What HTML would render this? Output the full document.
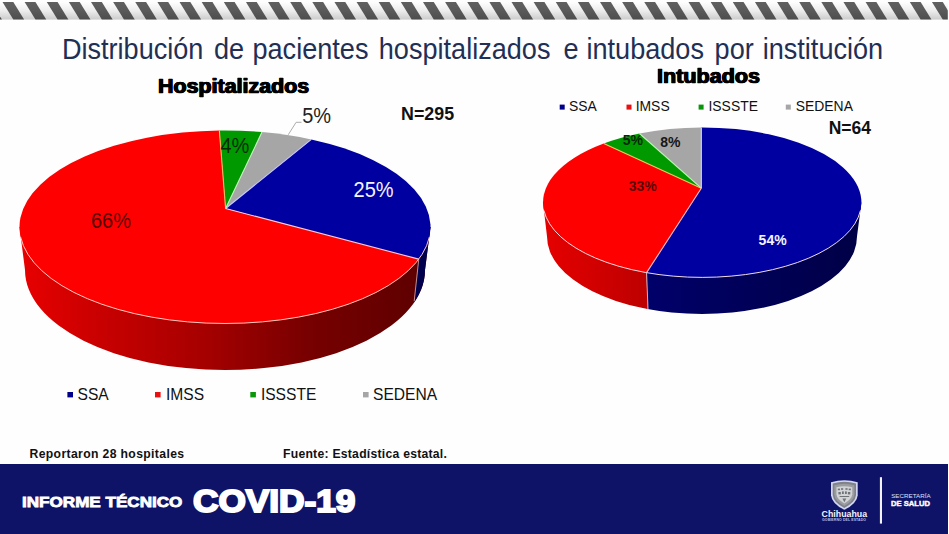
<!DOCTYPE html>
<html lang="es">
<head>
<meta charset="utf-8">
<title>Distribución de pacientes hospitalizados e intubados por institución</title>
<style>
html,body{margin:0;padding:0;}
body{width:949px;height:534px;overflow:hidden;background:#fff;font-family:"Liberation Sans",sans-serif;}
#slide{position:relative;width:949px;height:534px;overflow:hidden;background:#fefefe;}
#gfx{position:absolute;left:0;top:0;}
.t{position:absolute;white-space:nowrap;line-height:1;margin:0;transform-origin:0 0;}
#footer{position:absolute;left:0;top:464px;width:947.8px;height:70px;background:#0e1367;}
</style>
</head>
<body>
<div id="slide">
<svg id="gfx" width="949" height="534" viewBox="0 0 949 534">

<defs>
<linearGradient id="gL" gradientUnits="userSpaceOnUse" x1="20" y1="0" x2="430" y2="0">
 <stop offset="0" stop-color="#e80000"/>
 <stop offset="0.2" stop-color="#c80000"/>
 <stop offset="0.45" stop-color="#a60000"/>
 <stop offset="0.7" stop-color="#780000"/>
 <stop offset="1" stop-color="#5c0000"/>
</linearGradient>
<linearGradient id="gRr" gradientUnits="userSpaceOnUse" x1="543" y1="0" x2="650" y2="0">
 <stop offset="0" stop-color="#e60000"/>
 <stop offset="1" stop-color="#bc0000"/>
</linearGradient>
<linearGradient id="gRb" gradientUnits="userSpaceOnUse" x1="648" y1="0" x2="861" y2="0">
 <stop offset="0" stop-color="#00006a"/>
 <stop offset="0.5" stop-color="#000058"/>
 <stop offset="1" stop-color="#000046"/>
</linearGradient>
<linearGradient id="gStripe" x1="0" y1="0" x2="0" y2="1">
 <stop offset="0" stop-color="#000" stop-opacity="0"/>
 <stop offset="0.5" stop-color="#000" stop-opacity="0.07"/>
 <stop offset="1" stop-color="#000" stop-opacity="0.2"/>
</linearGradient>
</defs>
<polygon points="-19.63,2 -8.83,2 1.97,19.6 -8.83,19.6" fill="#606060"/><polygon points="2.50,2 13.30,2 24.10,19.6 13.30,19.6" fill="#606060"/><polygon points="24.63,2 35.43,2 46.23,19.6 35.43,19.6" fill="#606060"/><polygon points="46.76,2 57.56,2 68.36,19.6 57.56,19.6" fill="#606060"/><polygon points="68.89,2 79.69,2 90.49,19.6 79.69,19.6" fill="#606060"/><polygon points="91.02,2 101.82,2 112.62,19.6 101.82,19.6" fill="#606060"/><polygon points="113.15,2 123.95,2 134.75,19.6 123.95,19.6" fill="#606060"/><polygon points="135.28,2 146.08,2 156.88,19.6 146.08,19.6" fill="#606060"/><polygon points="157.41,2 168.21,2 179.01,19.6 168.21,19.6" fill="#606060"/><polygon points="179.54,2 190.34,2 201.14,19.6 190.34,19.6" fill="#606060"/><polygon points="201.67,2 212.47,2 223.27,19.6 212.47,19.6" fill="#606060"/><polygon points="223.80,2 234.60,2 245.40,19.6 234.60,19.6" fill="#606060"/><polygon points="245.93,2 256.73,2 267.53,19.6 256.73,19.6" fill="#606060"/><polygon points="268.06,2 278.86,2 289.66,19.6 278.86,19.6" fill="#606060"/><polygon points="290.19,2 300.99,2 311.79,19.6 300.99,19.6" fill="#606060"/><polygon points="312.32,2 323.12,2 333.92,19.6 323.12,19.6" fill="#606060"/><polygon points="334.45,2 345.25,2 356.05,19.6 345.25,19.6" fill="#606060"/><polygon points="356.58,2 367.38,2 378.18,19.6 367.38,19.6" fill="#606060"/><polygon points="378.71,2 389.51,2 400.31,19.6 389.51,19.6" fill="#606060"/><polygon points="400.84,2 411.64,2 422.44,19.6 411.64,19.6" fill="#606060"/><polygon points="422.97,2 433.77,2 444.57,19.6 433.77,19.6" fill="#606060"/><polygon points="445.10,2 455.90,2 466.70,19.6 455.90,19.6" fill="#606060"/><polygon points="467.23,2 478.03,2 488.83,19.6 478.03,19.6" fill="#606060"/><polygon points="489.36,2 500.16,2 510.96,19.6 500.16,19.6" fill="#606060"/><polygon points="511.49,2 522.29,2 533.09,19.6 522.29,19.6" fill="#606060"/><polygon points="533.62,2 544.42,2 555.22,19.6 544.42,19.6" fill="#606060"/><polygon points="555.75,2 566.55,2 577.35,19.6 566.55,19.6" fill="#606060"/><polygon points="577.88,2 588.68,2 599.48,19.6 588.68,19.6" fill="#606060"/><polygon points="600.01,2 610.81,2 621.61,19.6 610.81,19.6" fill="#606060"/><polygon points="622.14,2 632.94,2 643.74,19.6 632.94,19.6" fill="#606060"/><polygon points="644.27,2 655.07,2 665.87,19.6 655.07,19.6" fill="#606060"/><polygon points="666.40,2 677.20,2 688.00,19.6 677.20,19.6" fill="#606060"/><polygon points="688.53,2 699.33,2 710.13,19.6 699.33,19.6" fill="#606060"/><polygon points="710.66,2 721.46,2 732.26,19.6 721.46,19.6" fill="#606060"/><polygon points="732.79,2 743.59,2 754.39,19.6 743.59,19.6" fill="#606060"/><polygon points="754.92,2 765.72,2 776.52,19.6 765.72,19.6" fill="#606060"/><polygon points="777.05,2 787.85,2 798.65,19.6 787.85,19.6" fill="#606060"/><polygon points="799.18,2 809.98,2 820.78,19.6 809.98,19.6" fill="#606060"/><polygon points="821.31,2 832.11,2 842.91,19.6 832.11,19.6" fill="#606060"/><polygon points="843.44,2 854.24,2 865.04,19.6 854.24,19.6" fill="#606060"/><polygon points="865.57,2 876.37,2 887.17,19.6 876.37,19.6" fill="#606060"/><polygon points="887.70,2 898.50,2 909.30,19.6 898.50,19.6" fill="#606060"/><polygon points="909.83,2 920.63,2 931.43,19.6 920.63,19.6" fill="#606060"/><polygon points="931.96,2 942.76,2 953.56,19.6 942.76,19.6" fill="#606060"/><polygon points="954.09,2 964.89,2 975.69,19.6 964.89,19.6" fill="#606060"/><rect x="0" y="2" width="949" height="17.6" fill="url(#gStripe)"/><rect x="947.8" y="0" width="2" height="22" fill="#fefefe"/><path d="M19.5,227 L25,270 A200,100 0 0 0 425,270 L430.5,227 Z" fill="url(#gL)"/>
<clipPath id="cpLb"><polygon points="418.78,259.13 414.2,302.5 440,302.5 440,200 418.78,200"/></clipPath>
<path d="M19.5,227 L25,270 A200,100 0 0 0 425,270 L430.5,227 Z" fill="#00004c" clip-path="url(#cpLb)"/>
<line x1="418.78" y1="259.13" x2="414.2" y2="301.2" stroke="#e8b0b0" stroke-width="0.8"/>
<path d="M225.60,208.50 L219.35,130.54 A205.5,96.5 0 0 1 262.01,132.08 Z" fill="#009a00"/>
<path d="M225.60,208.50 L262.01,132.08 A205.5,96.5 0 0 1 311.34,139.43 Z" fill="#a6a6a6"/>
<path d="M225.60,208.50 L311.34,139.43 A205.5,96.5 0 0 1 418.78,259.13 Z" fill="#0000a0"/>
<path d="M225.60,208.50 L418.78,259.13 A205.5,96.5 0 1 1 219.35,130.54 Z" fill="#ff0000"/>
<line x1="225.6" y1="208.5" x2="219.35" y2="130.54" stroke="#f4b860" stroke-width="1.1"/>
<line x1="225.6" y1="208.5" x2="262.01" y2="132.08" stroke="#c0f4b8" stroke-width="1.1"/>
<line x1="225.6" y1="208.5" x2="311.34" y2="139.43" stroke="#c8c8fa" stroke-width="1.1"/>
<line x1="225.6" y1="208.5" x2="418.78" y2="259.13" stroke="#f8c8d4" stroke-width="1.1"/>
<path d="M20.61,237 A205.5,96.5 0 0 0 429.39,237" fill="none" stroke="#ffc8c0" stroke-width="1"/>
<polyline points="288.2,134.8 296.1,122.3 301.5,122.3" fill="none" stroke="#a4a4a4" stroke-width="0.9"/>
<clipPath id="cpRr"><polygon points="520,150 646.59,150 646.59,272.67 648,330 520,330"/></clipPath>
<clipPath id="cpRbl"><polygon points="880,150 646.59,150 646.59,272.67 648,330 880,330"/></clipPath>
<path d="M543.0,202.4 L547,236.6 A155,77.4 0 0 0 857,236.6 L861.4000000000001,202.4 Z" fill="url(#gRr)" clip-path="url(#cpRr)"/>
<path d="M543.0,202.4 L547,236.6 A155,77.4 0 0 0 857,236.6 L861.4000000000001,202.4 Z" fill="url(#gRb)" clip-path="url(#cpRbl)"/>
<line x1="646.59" y1="272.67" x2="648" y2="309" stroke="#f0c0c0" stroke-width="0.9"/>
<path d="M701.30,188.20 L701.30,127.40 A159.2,75 0 1 1 646.59,272.67 Z" fill="#0000a0"/>
<path d="M701.30,188.20 L646.59,272.67 A159.2,75 0 0 1 603.77,143.45 Z" fill="#ff0000"/>
<path d="M701.30,188.20 L603.77,143.45 A159.2,75 0 0 1 639.45,133.47 Z" fill="#009a00"/>
<path d="M701.30,188.20 L639.45,133.47 A159.2,75 0 0 1 701.30,127.40 Z" fill="#a6a6a6"/>
<line x1="701.3" y1="188.2" x2="701.30" y2="127.40" stroke="#d0d0f4" stroke-width="1.1"/>
<line x1="701.3" y1="188.2" x2="646.59" y2="272.67" stroke="#f8c0d0" stroke-width="1.1"/>
<line x1="701.3" y1="188.2" x2="603.77" y2="143.45" stroke="#f4c058" stroke-width="1.1"/>
<line x1="701.3" y1="188.2" x2="639.45" y2="133.47" stroke="#b8f4b0" stroke-width="1.1"/>
<path d="M543.91,210.4 A159.2,75 0 0 0 860.49,210.4" fill="none" stroke="#f0dce4" stroke-width="1"/><rect x="67.4" y="392" width="5.6" height="5.4" fill="#00008a"/>
<rect x="155" y="392" width="5.6" height="5.4" fill="#e81010"/>
<rect x="250.3" y="392" width="5.6" height="5.4" fill="#0a960a"/>
<rect x="363" y="392" width="5.6" height="5.4" fill="#a6a6a6"/>
<rect x="559.7" y="104.6" width="5" height="5" fill="#00008a"/>
<rect x="626.5" y="104.6" width="5" height="5" fill="#e81010"/>
<rect x="698.6" y="104.6" width="5" height="5" fill="#0a960a"/>
<rect x="785.8" y="104.6" width="5" height="5" fill="#a6a6a6"/>
</svg>
<h1 class="t" id="title" style="left:61.9px;top:34.1px;width:830px;height:28px;font-size:27.1px;font-weight:normal;transform:scaleY(1.07);color:#222f55;"><span style="position:absolute;left:0.0px;top:0;">Distribución</span> <span style="position:absolute;left:152.0px;top:0;">de</span> <span style="position:absolute;left:190.6px;top:0;">pacientes</span> <span style="position:absolute;left:316.9px;top:0;">hospitalizados</span> <span style="position:absolute;left:501.5px;top:0;">e</span> <span style="position:absolute;left:524.6px;top:0;">intubados</span> <span style="position:absolute;left:652.7px;top:0;">por</span> <span style="position:absolute;left:700.8px;top:0;">institución</span></h1>
<div class="t" id="hosp" style="left:158.0px;top:77.1px;font-size:19.7px;font-weight:bold;-webkit-text-stroke:0.7px #000;text-shadow:0.55px 0 #000,-0.55px 0 #000;transform:scale(1.088,1.0);color:#000;">Hospitalizados</div>
<div class="t" id="intu" style="left:656.9px;top:66.6px;font-size:19.7px;font-weight:bold;-webkit-text-stroke:0.7px #000;text-shadow:0.55px 0 #000,-0.55px 0 #000;transform:scale(1.095,1.0);color:#000;">Intubados</div>
<div class="t" id="n295" style="left:401.2px;top:105.9px;font-size:17.5px;font-weight:bold;transform:scale(1.02,1.03);color:#111;">N=295</div>
<div class="t" id="n64" style="left:828.7px;top:119.8px;font-size:17.5px;font-weight:bold;transform:scale(1.0,1.02);color:#111;">N=64</div>
<div class="t" id="p5" style="left:302.2px;top:104.9px;font-size:20px;transform:scaleY(1.07);color:#222;">5%</div>
<div class="t" id="p4" style="left:220.5px;top:135.2px;font-size:20px;transform:scaleY(1.07);color:#062c06;">4%</div>
<div class="t" id="p25" style="left:353.6px;top:179.0px;font-size:20px;transform:scaleY(1.07);color:#f4f4ff;">25%</div>
<div class="t" id="p66" style="left:90.9px;top:210.1px;font-size:20px;transform:scaleY(1.07);color:#560000;">66%</div>
<div class="t" id="q5" style="left:622.7px;top:131.6px;font-size:14px;font-weight:bold;transform:scaleY(1.06);color:#052805;">5%</div>
<div class="t" id="q8" style="left:660.2px;top:134.4px;font-size:14px;font-weight:bold;transform:scaleY(1.06);color:#161616;">8%</div>
<div class="t" id="q33" style="left:628.8px;top:177.6px;font-size:14px;font-weight:bold;transform:scaleY(1.06);color:#5c0404;">33%</div>
<div class="t" id="q54" style="left:758.6px;top:232.3px;font-size:14px;font-weight:bold;transform:scaleY(1.06);color:#f4f4ff;">54%</div>
<div class="t" id="l1" style="left:77.5px;top:387.0px;font-size:15.6px;transform:scaleY(1.03);color:#111;">SSA</div>
<div class="t" id="l2" style="left:166.0px;top:387.0px;font-size:15.6px;transform:scaleY(1.03);color:#111;">IMSS</div>
<div class="t" id="l3" style="left:260.9px;top:387.0px;font-size:15.6px;transform:scaleY(1.03);color:#111;">ISSSTE</div>
<div class="t" id="l4" style="left:373.0px;top:387.0px;font-size:15.6px;transform:scaleY(1.03);color:#111;">SEDENA</div>
<div class="t" id="r1" style="left:568.9px;top:100.4px;font-size:13.9px;transform:scaleY(1.03);color:#111;">SSA</div>
<div class="t" id="r2" style="left:635.7px;top:100.4px;font-size:13.9px;transform:scaleY(1.03);color:#111;">IMSS</div>
<div class="t" id="r3" style="left:708.5px;top:100.4px;font-size:13.9px;transform:scaleY(1.03);color:#111;">ISSSTE</div>
<div class="t" id="r4" style="left:795.8px;top:100.4px;font-size:13.9px;transform:scaleY(1.03);color:#111;">SEDENA</div>
<div class="t" id="rep" style="left:29.5px;top:448.4px;font-size:12.2px;font-weight:bold;letter-spacing:0.36px;color:#111;">Reportaron 28 hospitales</div>
<div class="t" id="fue" style="left:283.0px;top:448.4px;font-size:12.2px;font-weight:bold;letter-spacing:0.25px;color:#111;">Fuente: Estadística estatal.</div>
<div id="footer"></div>
<div class="t" id="inf" style="left:21.6px;top:495.0px;font-size:14.5px;font-weight:bold;-webkit-text-stroke:0.8px #fff;transform:scale(1.178,1.0);color:#fff;">INFORME TÉCNICO</div>
<div class="t" id="cov" style="left:192.6px;top:485.7px;font-size:31px;font-weight:bold;-webkit-text-stroke:2px #fff;transform:scale(1.135,1.0);color:#fff;">COVID-19</div>
<svg class="t" id="logo" style="left:800px;top:464px;" width="149" height="70" viewBox="800 464 149 70">
 <path d="M831,482.3 Q844.35,478.1 857.7,482.3 L857.7,495.2 Q857,503.6 844.35,509.8 Q831.7,503.6 831,495.2 Z" fill="#d4d7f2"/>
 <path d="M832.7,483.6 Q844.35,480.1 856,483.6 L856,495 Q855.3,502.4 844.35,507.9 Q833.4,502.4 832.7,495 Z" fill="#7f8288"/>
 <path d="M834.3,485.2 Q844.35,482.2 854.4,485.2 L854.4,494.6 Q853.8,501 844.35,505.9 Q834.9,501 834.3,494.6 Z" fill="#9a9ca0"/>
 <path d="M836.4,487.2 Q844.35,485.2 852.3,487.2 L852.3,494.2 Q851.6,499.4 844.35,503.4 Q837.1,499.4 836.4,494.2 Z" fill="#d2d3d6"/>
 <g fill="#6f7277">
  <rect x="837.8" y="488.6" width="2.2" height="1.6"/><rect x="841" y="488.2" width="2.2" height="1.6"/><rect x="845.4" y="488.2" width="2.2" height="1.6"/><rect x="848.7" y="488.6" width="2.2" height="1.6"/>
  <rect x="838.4" y="492" width="2.4" height="2.4"/><rect x="842" y="491.4" width="1.8" height="2.6"/><rect x="845" y="491.4" width="1.8" height="2.6"/><rect x="847.9" y="492" width="2.4" height="2.4"/>
  <rect x="839.6" y="496" width="9.6" height="1"/>
  <path d="M842.4,498.4 L846.3,498.4 L844.35,502.2 Z"/>
 </g>
 <rect x="879.9" y="477.2" width="2.1" height="46.400" fill="#f2f2f8"/>
</svg>
<div class="t" id="chi" style="left:821.6px;top:509.600px;font-size:8.800px;font-weight:bold;color:#f4f4fc;">Chihuahua</div>
<div class="t" id="gob" style="left:822px;top:518.800px;font-size:3.500px;font-weight:bold;color:#b8bcec;letter-spacing:0.100px;">GOBIERNO DEL ESTADO</div>
<div class="t" id="sec" style="left:891.2px;top:493px;font-size:6.200px;color:#dfe1f8;letter-spacing:0.050px;">SECRETARÍA</div>
<div class="t" id="sal" style="left:891.2px;top:500.600px;font-size:7.100px;font-weight:bold;color:#fff;-webkit-text-stroke:0.400px #fff;transform:scaleX(1.075);">DE SALUD</div>
</div>
</body>
</html>
